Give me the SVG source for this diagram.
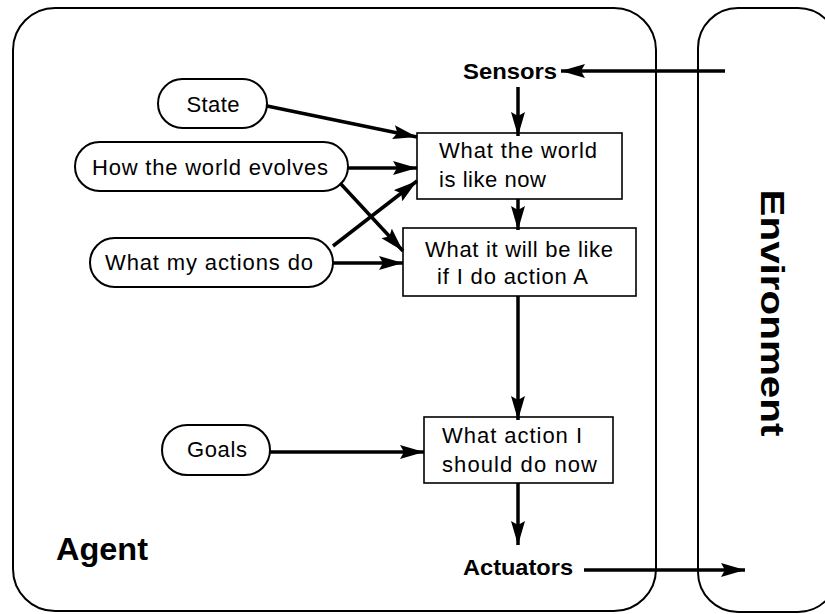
<svg xmlns="http://www.w3.org/2000/svg" width="825" height="614" viewBox="0 0 825 614">
<defs>
<marker id="ah" markerUnits="userSpaceOnUse" markerWidth="26" markerHeight="16" refX="24" refY="7" orient="auto">
<path d="M0,0 L24,7 L0,14 L4,7 z" fill="#000"/>
</marker>
<style>
.frame{fill:none;stroke:#000;stroke-width:2}
.oval{fill:#fff;stroke:#000;stroke-width:2}
.box{fill:#fff;stroke:#000;stroke-width:1.6}
.t{font-family:"Liberation Sans",Arial,sans-serif;font-size:22px;fill:#000;text-anchor:middle}
.tl{font-family:"Liberation Sans",Arial,sans-serif;font-size:22px;fill:#000}
.b{font-family:"Liberation Sans",Arial,sans-serif;font-weight:bold;fill:#000}
.c{fill:none;stroke:#000;stroke-width:3.5;marker-end:url(#ah)}
</style>
</defs>
<rect width="825" height="614" fill="#fff"/>
<g id="agent">
<rect class="frame" x="13" y="8" width="643" height="603" rx="42" ry="42"/>
<text class="b" x="56" y="560" font-size="32" textLength="92" lengthAdjust="spacingAndGlyphs">Agent</text>
</g>
<g id="environment">
<rect class="frame" x="698" y="8" width="140" height="604" rx="40" ry="40"/>
<text class="b" transform="translate(761,313) rotate(90)" x="0" y="0" font-size="34" text-anchor="middle" textLength="247" lengthAdjust="spacingAndGlyphs">Environment</text>
</g>
<g id="sensors">
<text class="b" x="463" y="79" font-size="22" textLength="94" lengthAdjust="spacingAndGlyphs">Sensors</text>
</g>
<g id="actuators">
<text class="b" x="463" y="575" font-size="22" textLength="110" lengthAdjust="spacingAndGlyphs">Actuators</text>
</g>
<g id="state">
<rect class="oval" x="158" y="79" width="109" height="49" rx="24.5"/>
<text class="t" x="213" y="112" textLength="53">State</text>
</g>
<g id="evolves">
<rect class="oval" x="75" y="142" width="273" height="49" rx="24.5"/>
<text class="t" x="210" y="175" textLength="236">How the world evolves</text>
</g>
<g id="actions">
<rect class="oval" x="90" y="238" width="243" height="49" rx="24.5"/>
<text class="t" x="209" y="270" textLength="208">What my actions do</text>
</g>
<g id="goals">
<rect class="oval" x="162" y="425" width="108" height="50" rx="25"/>
<text class="t" x="217" y="457" textLength="60">Goals</text>
</g>
<g id="world-now">
<rect class="box" x="417" y="133" width="205" height="66"/>
<text class="tl" x="439" y="158" textLength="158">What the world</text>
<text class="tl" x="439" y="187" textLength="107">is like now</text>
</g>
<g id="will-be">
<rect class="box" x="403" y="228" width="233" height="68"/>
<text class="tl" x="425" y="257" textLength="188">What it will be like</text>
<text class="tl" x="437" y="284" textLength="151">if I do action A</text>
</g>
<g id="action">
<rect class="box" x="424" y="417" width="189" height="66"/>
<text class="tl" x="442" y="443" textLength="140">What action I</text>
<text class="tl" x="442" y="472" textLength="155">should do now</text>
</g>
<g id="connectors">
<line class="c" x1="725" y1="71" x2="561" y2="71"/>
<line class="c" x1="518" y1="87" x2="518" y2="136"/>
<line class="c" x1="518" y1="199" x2="518" y2="230"/>
<line class="c" x1="518" y1="296" x2="518" y2="420"/>
<line class="c" x1="518" y1="483" x2="518" y2="545"/>
<line class="c" x1="584" y1="570" x2="745" y2="570"/>
<line class="c" x1="267" y1="106" x2="417" y2="137"/>
<line class="c" x1="348" y1="168" x2="417" y2="168"/>
<line class="c" x1="340" y1="183" x2="403" y2="251"/>
<line class="c" x1="333" y1="246" x2="417" y2="181"/>
<line class="c" x1="333" y1="263" x2="403" y2="263"/>
<line class="c" x1="270" y1="452" x2="424" y2="452"/>
</g>
</svg>
